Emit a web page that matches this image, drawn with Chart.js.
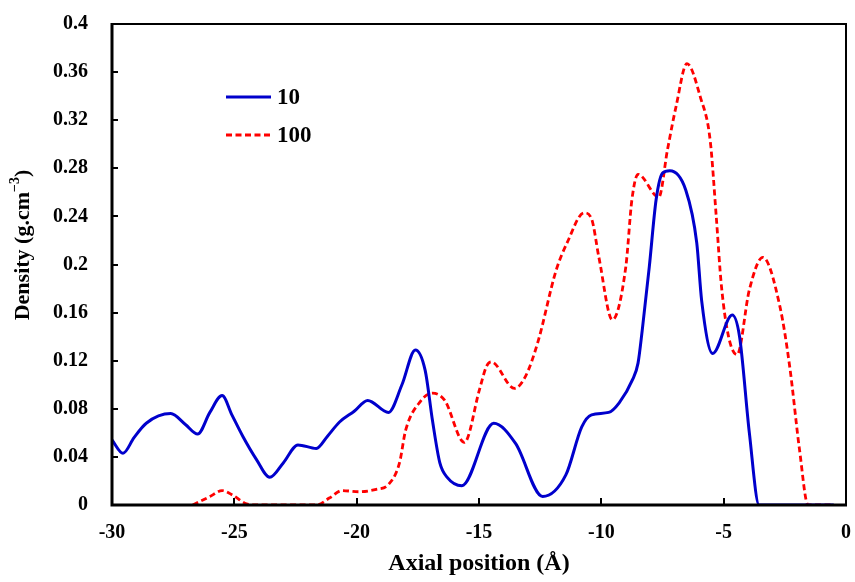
<!DOCTYPE html>
<html>
<head>
<meta charset="utf-8">
<script src="https://cdn.jsdelivr.net/npm/chart.js@4"></script>
<style>
  html, body { margin: 0; padding: 0; background: #fff; }
  #wrap { width: 855px; height: 582px; position: relative; }
</style>
</head>
<body>
<div id="wrap"><canvas id="chart"></canvas></div>
<script>
"use strict";

/* ---------------- DATA ---------------- */

const seriesNames = ["10", "100"];

const xTicks = [-30, -25, -20, -15, -10, -5, 0];
const yTicks = [0, 0.04, 0.08, 0.12, 0.16, 0.2, 0.24, 0.28, 0.32, 0.36, 0.4];
const yTickLabels = ["0", "0.04", "0.08", "0.12", "0.16", "0.2", "0.24", "0.28", "0.32", "0.36", "0.4"];

// series "10" (blue, solid)
const blueX = [-30, -29.55, -29.1, -28.6, -27.6, -27.0, -26.5, -26.0, -25.5, -25.1, -24.65, -24.1,
  -23.55, -23.0, -22.4, -21.65, -21.2, -20.7, -20.1, -19.55, -18.7, -18.15, -17.6, -17.2, -16.9,
  -16.6, -16.3, -15.7, -14.4, -13.5, -12.4, -11.45, -10.8, -10.4, -9.7, -9.27, -8.73, -8.5, -8.33,
  -8.04, -7.76, -7.5, -7.2, -6.55, -6.1, -5.9, -5.45, -4.65, -4.35, -3.95, -3.55, -3.0, -2.0, -0.5];
const blueY = [0.054, 0.043, 0.056, 0.068, 0.076, 0.067, 0.059, 0.077, 0.091, 0.075, 0.057, 0.038,
  0.023, 0.035, 0.050, 0.047, 0.057, 0.069, 0.078, 0.087, 0.077, 0.100, 0.129, 0.112, 0.070,
  0.035, 0.023, 0.016, 0.068, 0.051, 0.007, 0.025, 0.065, 0.075, 0.077, 0.085, 0.104, 0.118, 0.145,
  0.198, 0.254, 0.276, 0.278, 0.262, 0.218, 0.170, 0.126, 0.158, 0.140, 0.060, 0, 0, 0, 0];

// series "100" (red, dashed)
const redX = [-26.7, -26.0, -25.5, -25.05, -24.5, -24.0, -21.65, -21.1, -20.6, -19.9, -19.2, -18.7,
  -18.25, -18.0, -17.4, -16.9, -16.4, -15.6, -14.98, -14.7, -14.5, -13.55, -13.1, -12.6, -11.85,
  -11.4, -10.7, -10.4, -10.1, -9.55, -9.0, -8.75, -8.5, -7.65, -7.3, -6.95, -6.5, -5.95, -5.55,
  -5.3, -5.1, -4.8, -4.45, -3.95, -3.4, -2.7, -2.3, -1.9, -1.55, -0.5];
const redY = [0, 0.007, 0.012, 0.008, 0.001, 0, 0, 0.006, 0.012, 0.011, 0.013, 0.017,
  0.035, 0.062, 0.086, 0.093, 0.087, 0.052, 0.096, 0.115, 0.119, 0.097, 0.107, 0.135, 0.195,
  0.218, 0.243, 0.238, 0.206, 0.154, 0.198, 0.254, 0.275, 0.256, 0.295, 0.331, 0.367, 0.339, 0.303,
  0.239, 0.184, 0.140, 0.125, 0.179, 0.206, 0.165, 0.115, 0.046, 0, 0];

/* ---------------- STYLE ---------------- */

const FONT = "'Liberation Serif', 'Times New Roman', serif";
const BLUE = "#0000cc";
const RED = "#ff0000";

function toPoints(xs, ys) {
  return xs.map((x, i) => ({ x, y: ys[i] }));
}

/* frame, inward ticks, legend and the y title with superscript */
const decorPlugin = {
  id: "decor",
  afterDraw(chart) {
    const { ctx, chartArea: a, scales } = chart;
    ctx.save();

    // plot frame
    ctx.strokeStyle = "#000";
    ctx.lineWidth = 2;
    ctx.strokeRect(a.left, a.top, a.right - a.left, a.bottom - a.top);
    ctx.lineWidth = 3;
    ctx.beginPath();
    ctx.moveTo(a.left, a.top - 1);
    ctx.lineTo(a.left, a.bottom);
    ctx.lineTo(a.right + 1, a.bottom);
    ctx.stroke();

    // inward tick marks
    ctx.lineWidth = 2;
    ctx.beginPath();
    yTicks.forEach(v => {
      const y = Math.round(scales.y.getPixelForValue(v));
      ctx.moveTo(a.left, y);
      ctx.lineTo(a.left + 6, y);
    });
    xTicks.forEach(v => {
      const x = Math.round(scales.x.getPixelForValue(v));
      ctx.moveTo(x, a.bottom);
      ctx.lineTo(x, a.bottom - 7);
    });
    ctx.stroke();

    // legend
    const legendRows = [
      { y: 97, ds: chart.data.datasets[0] },
      { y: 135, ds: chart.data.datasets[1] },
    ];
    ctx.font = `bold 23px ${FONT}`;
    ctx.textBaseline = "middle";
    ctx.fillStyle = "#000";
    legendRows.forEach(r => {
      ctx.strokeStyle = r.ds.borderColor;
      ctx.lineWidth = r.ds.borderWidth;
      ctx.setLineDash(r.ds.borderDash || []);
      ctx.beginPath();
      ctx.moveTo(226, r.y);
      ctx.lineTo(271, r.y);
      ctx.stroke();
      ctx.setLineDash([]);
      ctx.fillText(r.ds.label, 277, r.y + 1);
    });

    // y axis title
    const main = "Density (g.cm";
    const sup = "\u22123";
    const tail = ")";
    ctx.font = `bold 22px ${FONT}`;
    const wMain = ctx.measureText(main).width;
    const wTail = ctx.measureText(tail).width;
    ctx.font = `bold 14px ${FONT}`;
    const wSup = ctx.measureText(sup).width;
    const total = wMain + wSup + wTail;

    ctx.translate(23, 245);
    ctx.rotate(-Math.PI / 2);
    ctx.textBaseline = "middle";
    ctx.textAlign = "left";
    let x0 = -total / 2;
    ctx.font = `bold 22px ${FONT}`;
    ctx.fillText(main, x0, 0);
    x0 += wMain;
    ctx.font = `bold 14px ${FONT}`;
    ctx.fillText(sup, x0, -8);
    x0 += wSup;
    ctx.font = `bold 22px ${FONT}`;
    ctx.fillText(tail, x0, 0);

    ctx.restore();
  },
};

new Chart(document.getElementById("chart"), {
  type: "line",
  data: {
    datasets: [
      {
        label: seriesNames[0],
        data: toPoints(blueX, blueY),
        borderColor: BLUE,
        borderWidth: 3,
        pointRadius: 0,
        cubicInterpolationMode: "monotone",
        fill: false,
      },
      {
        label: seriesNames[1],
        data: toPoints(redX, redY),
        borderColor: RED,
        borderWidth: 2.8,
        borderDash: [6, 3.5],
        pointRadius: 0,
        cubicInterpolationMode: "monotone",
        fill: false,
      },
    ],
  },
  options: {
    responsive: true,
    maintainAspectRatio: false,
    animation: false,
    layout: { padding: { left: 0, right: 9, top: 24, bottom: 0 } },
    plugins: {
      legend: { display: false },
      tooltip: { enabled: false },
    },
    scales: {
      x: {
        type: "linear",
        min: -30,
        max: 0,
        grid: { display: false, drawTicks: false },
        border: { display: false },
        afterBuildTicks: s => { s.ticks = xTicks.map(v => ({ value: v })); },
        afterFit: s => { s.height = 77; s.paddingLeft = 0; s.paddingRight = 0; },
        ticks: {
          color: "#000",
          padding: 16,
          font: { family: FONT, size: 20, weight: "bold" },
          callback: v => String(v),
        },
        title: {
          display: true,
          text: "Axial position (Å)",
          color: "#000",
          padding: { top: 8 },
          font: { family: FONT, size: 24, weight: "bold" },
        },
      },
      y: {
        min: 0,
        max: 0.4,
        grid: { display: false, drawTicks: false },
        border: { display: false },
        afterBuildTicks: s => { s.ticks = yTicks.map(v => ({ value: v })); },
        afterFit: s => { s.width = 112; s.paddingTop = 0; s.paddingBottom = 0; },
        ticks: {
          color: "#000",
          padding: 24,
          font: { family: FONT, size: 20, weight: "bold" },
          callback: (v, i) => yTickLabels[i],
        },
      },
    },
  },
  plugins: [decorPlugin],
});
</script>
</body>
</html>
